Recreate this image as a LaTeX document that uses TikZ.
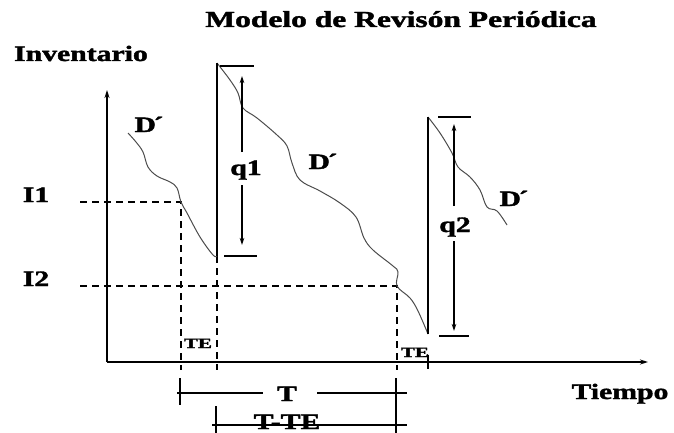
\documentclass[tikz,border=0pt]{standalone}
\usepackage{fontspec}
\setmainfont{Liberation Serif}[BoldFeatures={FakeBold=1.5}]
\usetikzlibrary{arrows.meta}
\newcommand{\stx}[1]{\scalebox{1.35}[1]{#1}}
\newcommand{\stxs}[1]{\scalebox{1.5}[1]{#1}}
\newcommand{\Dp}{D\kern-0.08em´}
\begin{document}
\begin{tikzpicture}[x=1pt,y=-1pt,
  lbl/.style={font=\fontsize{22}{22}\selectfont\bfseries, inner sep=0pt, anchor=base},
  ttl/.style={font=\fontsize{23}{23}\selectfont\bfseries, inner sep=0pt, anchor=base},
  small/.style={font=\fontsize{14}{14}\selectfont\bfseries, inner sep=0pt, anchor=base},
  axis/.style={line width=1.4pt, -{Stealth[length=8pt,width=5pt]}},
  dsh/.style={line width=1.3pt, dash pattern=on 7pt off 5pt},
  crv/.style={line width=1pt, draw=black!70},
  solid line/.style={line width=1.4pt},
  qarrow/.style={line width=1.3pt, -{Stealth[length=7pt,width=4.5pt]}},
  thin line/.style={line width=1.3pt}]
\useasboundingbox (0,0) rectangle (674,433);

% texts
\node[ttl] (title) at (401,27) {\scalebox{1.37}[1]{Modelo de Revisón Periódica}};
\node[lbl] (inv) at (81,61) {\stx{Inventario}};
\node[lbl] (I1) at (36,202) {\stx{I1}};
\node[lbl] (I2) at (36,286) {\stx{I2}};
\node[lbl] (tiempo) at (620,399) {\stx{Tiempo}};
\node[lbl] (D1) at (149,132) {\stx{\Dp}};
\node[lbl] (D2) at (323,169) {\stx{\Dp}};
\node[lbl] (D3) at (514,206) {\stx{\Dp}};
\node[small] (TE1) at (198,348) {\stxs{TE}};
\node[small] (TE2) at (415,357) {\stxs{TE}};

% axes
\coordinate (O) at (107,362);
\coordinate (Ytop) at (107,90);
\coordinate (Xend) at (648,362);
\draw[axis] (O) -- (Ytop);
\draw[axis] (O) -- (Xend);

% key coordinates
\coordinate (a0) at (128,133);
\coordinate (a1) at (181,202);
\coordinate (b0) at (217,256);
\coordinate (b1) at (217,63);
\coordinate (c1) at (397,286);
\coordinate (d0) at (428,334);
\coordinate (d1) at (428,117);
\coordinate (e1) at (507,225);

% dashed guides
\coordinate (I1s) at (80,202);
\coordinate (I2s) at (80,286);
\coordinate (v1b) at (181,370);
\coordinate (v2b) at (217,370);
\coordinate (v3b) at (397,370);
\draw[dsh] (I1s) -- (a1) -- (v1b);
\draw[dsh] (I2s) -- (c1) -- (v3b);
\draw[dsh] (b0) -- (v2b);

% inventory curves
\draw[crv] plot[smooth, tension=0.6] coordinates {(a0) (136,142) (143,152) (148,167) (157,176) (170,182) (177,188) (a1) (187,213) (200,237) (213,255) (b0)};
\draw[crv] plot[smooth, tension=0.6] coordinates {(b1) (230,80) (238,93) (243,108) (257,118) (277,135) (287,146) (292,163) (300,180) (320,191) (340,203) (356,217) (364,238) (373,250) (393,266) (398,272) (c1) (410,298) (418,311) (d0)};
\draw[crv] plot[smooth, tension=0.6] coordinates {(d1) (440,133) (452,153) (458,167) (470,177) (480,190) (487,207) (497,211) (e1)};

% vertical replenishments
\draw[solid line] (b0) -- (b1);
\draw[solid line] (d0) -- (d1);
\coordinate (tk1) at (428,355);
\coordinate (tk2) at (428,369);
\draw[solid line] (tk1) -- (tk2);

% q1
\coordinate (q1t1) at (220,66); \coordinate (q1t2) at (254,66);
\coordinate (q1b1) at (224,256); \coordinate (q1b2) at (257,256);
\draw[thin line] (q1t1) -- (q1t2);
\draw[thin line] (q1b1) -- (q1b2);
\node[lbl] (q1) at (246,175) {\stx{q1}};
\coordinate (q1up) at (242,76); \coordinate (q1dn) at (242,245);
\coordinate (q1a) at (242,152); \coordinate (q1b) at (242,185);
\draw[qarrow] (q1a) -- (q1up);
\draw[qarrow] (q1b) -- (q1dn);

% q2
\coordinate (q2t1) at (438,117); \coordinate (q2t2) at (471,117);
\coordinate (q2b1) at (439,336); \coordinate (q2b2) at (469,336);
\draw[thin line] (q2t1) -- (q2t2);
\draw[thin line] (q2b1) -- (q2b2);
\node[lbl] (q2) at (455,232) {\stx{q2}};
\coordinate (q2up) at (454,124); \coordinate (q2dn) at (454,331);
\coordinate (q2a) at (454,206); \coordinate (q2b) at (454,241);
\draw[qarrow] (q2a) -- (q2up);
\draw[qarrow] (q2b) -- (q2dn);

% dimension T
\coordinate (Tk1a) at (180,378); \coordinate (Tk1b) at (180,405);
\coordinate (Tk2a) at (396,378); \coordinate (Tk2b) at (396,433);
\coordinate (Tk3a) at (216,406); \coordinate (Tk3b) at (216,433);
\draw[thin line] (Tk1a) -- (Tk1b);
\draw[thin line] (Tk2a) -- (Tk2b);
\draw[thin line] (Tk3a) -- (Tk3b);
\node[lbl] (T) at (287,401) {\stx{T}};
\coordinate (TL) at (177,393); \coordinate (TLm) at (263,393);
\coordinate (TRm) at (317,393); \coordinate (TR) at (407,393);
\draw[thin line] (TL) -- (TLm);
\draw[thin line] (TRm) -- (TR);
\node[lbl] (TTE) at (287,429) {\stx{T-TE}};
\coordinate (TTL) at (212,425); \coordinate (TTR) at (407,425);
\draw[thin line] (TTL) -- (TTR);
\end{tikzpicture}
\end{document}
